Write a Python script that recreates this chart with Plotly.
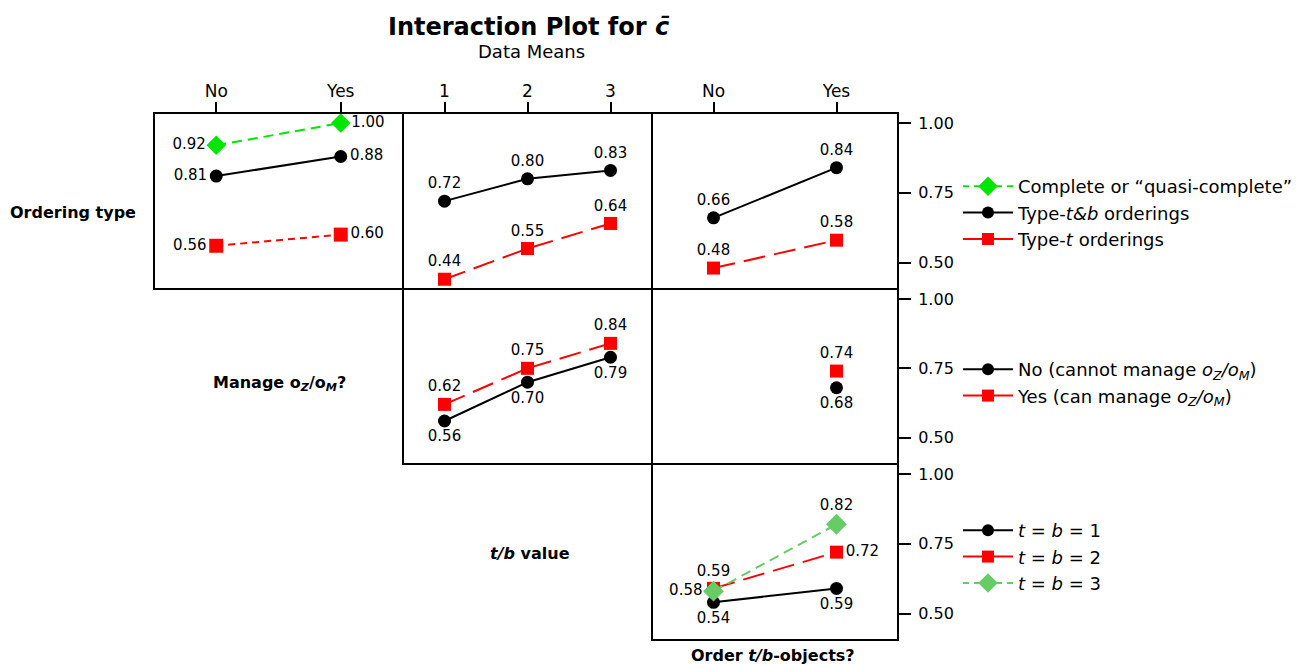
import plotly.graph_objects as go

# ---- data: means of c-bar for each factor combination ----
yes_no = ["No", "Yes"]
tb_levels = [1, 2, 3]
y_ticks = [0.50, 0.75, 1.00]
y_ticktext = ["0.50", "0.75", "1.00"]

# Ordering type vs. Manage oZ/oM?
ot_manage_complete = [0.92, 1.00]
ot_manage_tb = [0.81, 0.88]
ot_manage_t = [0.56, 0.60]

# Ordering type vs. t/b value
ot_tbval_tb = [0.72, 0.80, 0.83]
ot_tbval_t = [0.44, 0.55, 0.64]

# Ordering type vs. Order t/b-objects?
ot_order_tb = [0.66, 0.84]
ot_order_t = [0.48, 0.58]

# Manage oZ/oM? vs. t/b value
mg_tbval_no = [0.56, 0.70, 0.79]
mg_tbval_yes = [0.62, 0.75, 0.84]

# Manage oZ/oM? vs. Order t/b-objects? (only "Yes" observed)
mg_order_no = [None, 0.68]
mg_order_yes = [None, 0.74]

# t/b value vs. Order t/b-objects?
tb_order_1 = [0.54, 0.59]
tb_order_2 = [0.59, 0.72]
tb_order_3 = [0.58, 0.82]

# ---- styling ----
W, H = 1304, 665
FONT = "DejaVu Sans"
BLACK = "#000000"
RED = "#ff0000"
LIME = "#00e600"
SOFTGREEN = "#66cc66"

col_px = [(154, 403), (403, 652), (652, 898)]
row_px = [(113, 289), (289, 464), (464, 640)]
Y_RANGE = [0.405, 1.036]


def xdom(c):
    a, b = col_px[c]
    return [a / W, b / W]


def ydom(r):
    a, b = row_px[r]
    return [1 - b / H, 1 - a / H]


def fmt(vals):
    return ["" if v is None else f"{v:.2f}" for v in vals]


fig = go.Figure()

# panel index -> (row, col, x ticks, x labels, x range, top ticks, right ticks)
panels = {
    1: (0, 0, [0, 1], yes_no, [-0.5, 1.5], True, False),
    2: (0, 1, tb_levels, [str(v) for v in tb_levels], [0.5, 3.5], True, False),
    3: (0, 2, [0, 1], yes_no, [-0.5, 1.5], True, True),
    4: (1, 1, tb_levels, [str(v) for v in tb_levels], [0.5, 3.5], False, False),
    5: (1, 2, [0, 1], yes_no, [-0.5, 1.5], False, True),
    6: (2, 2, [0, 1], yes_no, [-0.5, 1.5], False, True),
}

layout_axes = {}
shapes = []
for k, (r, c, tv, tt, rng, top, right) in panels.items():
    xs = "xaxis" if k == 1 else f"xaxis{k}"
    ys = "yaxis" if k == 1 else f"yaxis{k}"
    layout_axes[xs] = dict(
        domain=xdom(c), range=rng, anchor="y" if k == 1 else f"y{k}",
        side="top", tickvals=tv, ticktext=tt,
        ticks="outside" if top else "", ticklen=10, tickwidth=2, tickcolor=BLACK,
        showticklabels=top, ticklabelstandoff=-2,
        tickfont=dict(family=FONT, size=17, color=BLACK),
        showline=False, showgrid=False, zeroline=False, fixedrange=True,
    )
    layout_axes[ys] = dict(
        domain=ydom(r), range=Y_RANGE, anchor="x" if k == 1 else f"x{k}",
        side="right", tickvals=y_ticks, ticktext=y_ticktext,
        ticks="outside" if right else "", ticklen=12, tickwidth=2, tickcolor=BLACK,
        showticklabels=right, ticklabelstandoff=4,
        tickfont=dict(family=FONT, size=16, color=BLACK),
        showline=False, showgrid=False, zeroline=False, fixedrange=True,
    )
    # panel frame
    x0, x1 = xdom(c)
    y0, y1 = ydom(r)
    shapes.append(dict(type="rect", xref="paper", yref="paper",
                       x0=x0, x1=x1, y0=y0, y1=y1,
                       line=dict(color=BLACK, width=2), layer="above"))


def series(k, x, y, color, symbol, size, dash, textpos):
    fig.add_trace(go.Scatter(
        x=x, y=y, mode="lines+markers+text",
        xaxis="x" if k == 1 else f"x{k}", yaxis="y" if k == 1 else f"y{k}",
        line=dict(color=color, width=2, dash=dash),
        marker=dict(color=color, symbol=symbol, size=size),
        text=fmt(y), textposition=textpos,
        textfont=dict(family=FONT, size=15, color=BLACK),
        showlegend=False, hoverinfo="skip", cliponaxis=False,
    ))


SHORT = "10px,6px"
FINE = "7px,5px"
LONG = "22px,9px"
lr = ["middle left", "middle right"]

# Ordering type x Manage
series(1, [0, 1], ot_manage_complete, LIME, "diamond", 15, SHORT, lr)
series(1, [0, 1], ot_manage_tb, BLACK, "circle", 13, "solid", lr)
series(1, [0, 1], ot_manage_t, RED, "square", 14, FINE, lr)
# Ordering type x t/b value
series(2, tb_levels, ot_tbval_tb, BLACK, "circle", 13, "solid", "top center")
series(2, tb_levels, ot_tbval_t, RED, "square", 13, LONG, "top center")
# Ordering type x Order t/b-objects
series(3, [0, 1], ot_order_tb, BLACK, "circle", 13, "solid", "top center")
series(3, [0, 1], ot_order_t, RED, "square", 13, LONG, "top center")
# Manage x t/b value
series(4, tb_levels, mg_tbval_no, BLACK, "circle", 13, "solid", "bottom center")
series(4, tb_levels, mg_tbval_yes, RED, "square", 13, LONG, "top center")
# Manage x Order t/b-objects
series(5, [0, 1], mg_order_no, BLACK, "circle", 13, "solid", "bottom center")
series(5, [0, 1], mg_order_yes, RED, "square", 13, LONG, "top center")
# t/b value x Order t/b-objects
series(6, [0, 1], tb_order_1, BLACK, "circle", 13, "solid", "bottom center")
series(6, [0, 1], tb_order_2, RED, "square", 13, LONG, ["top center", "middle right"])
series(6, [0, 1], tb_order_3, SOFTGREEN, "diamond", 16, SHORT, ["middle left", "top center"])


# ---- legend entries ----
def legend_entry(name, color, symbol, size, dash, legend):
    fig.add_trace(go.Scatter(
        x=[None], y=[None], mode="lines+markers", name=name,
        line=dict(color=color, width=2, dash=dash),
        marker=dict(color=color, symbol=symbol, size=size),
        legend=legend, hoverinfo="skip",
    ))


legend_entry("Complete or \u201cquasi-complete\u201d", LIME, "diamond", 15, "6px,5px", "legend")
legend_entry("Type-<i>t&amp;b</i> orderings", BLACK, "circle", 12, "solid", "legend")
legend_entry("Type-<i>t</i> orderings", RED, "square", 12, "solid", "legend")
legend_entry("No (cannot manage <i>o<sub>Z</sub>/o<sub>M</sub></i>)", BLACK, "circle", 12, "solid", "legend2")
legend_entry("Yes (can manage <i>o<sub>Z</sub>/o<sub>M</sub></i>)", RED, "square", 12, "solid", "legend2")
legend_entry("<i>t</i> = <i>b</i> = 1", BLACK, "circle", 12, "solid", "legend3")
legend_entry("<i>t</i> = <i>b</i> = 2", RED, "square", 12, "solid", "legend3")
legend_entry("<i>t</i> = <i>b</i> = 3", SOFTGREEN, "diamond", 15, "6px,5px", "legend3")

leg_common = dict(
    xanchor="left", yanchor="top", bgcolor="rgba(0,0,0,0)", borderwidth=0,
    font=dict(family=FONT, size=18, color=BLACK), itemwidth=50,
    tracegroupgap=0, itemclick=False, itemdoubleclick=False,
)

annotations = [
    dict(text="<b>Interaction Plot for <i>c\u0304</i></b>", x=529 / W, y=1 - 27 / H,
         font=dict(family=FONT, size=24, color=BLACK)),
    dict(text="Data Means", x=531 / W, y=1 - 52 / H,
         font=dict(family=FONT, size=18, color=BLACK)),
    dict(text="<b>Ordering type</b>", x=73 / W, y=1 - 212 / H,
         font=dict(family=FONT, size=16, color=BLACK)),
    dict(text="<b>Manage o<sub><i>Z</i></sub>/o<sub><i>M</i></sub>?</b>", x=279 / W, y=1 - 383 / H,
         font=dict(family=FONT, size=16, color=BLACK)),
    dict(text="<b><i>t/b</i> value</b>", x=530 / W, y=1 - 553 / H,
         font=dict(family=FONT, size=16, color=BLACK)),
    dict(text="<b>Order <i>t/b</i>-objects?</b>", x=773 / W, y=1 - 655 / H,
         font=dict(family=FONT, size=16, color=BLACK)),
]
for a in annotations:
    a.update(xref="paper", yref="paper", showarrow=False, xanchor="center", yanchor="middle")

fig.update_layout(
    width=W, height=H,
    margin=dict(l=0, r=0, t=0, b=0, autoexpand=False),
    paper_bgcolor="white", plot_bgcolor="white",
    font=dict(family=FONT, color=BLACK),
    annotations=annotations, shapes=shapes,
    legend=dict(x=958 / W, y=1 - 168 / H, **leg_common),
    legend2=dict(x=958 / W, y=1 - 351 / H, **leg_common),
    legend3=dict(x=958 / W, y=1 - 512 / H, **leg_common),
    **layout_axes,
)

fig.write_html("out.html")
